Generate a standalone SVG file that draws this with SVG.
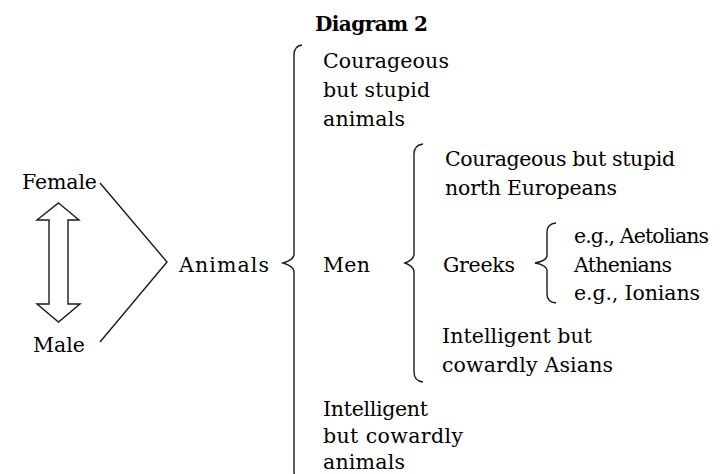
<svg xmlns="http://www.w3.org/2000/svg" width="727" height="474" viewBox="0 0 727 474">
<style>
text{font-family:"DejaVu Serif","Liberation Serif",serif;font-size:20.5px;fill:#000}
.b{font-weight:bold;font-size:20px}
.ln{fill:none;stroke:#1a1a1a;stroke-width:1.4;stroke-linejoin:miter}
</style>
<rect width="727" height="474" fill="#fff"/>
<g id="title"><text class="b" x="315" y="31" textLength="113">Diagram 2</text></g>
<g id="connectors">
<polyline class="ln" points="100,183 167,262 100,342"/>
<path class="ln" d="M302,45 Q294,46 294,55 L294,255 Q293,260 283,263 Q293,266 294,271 L294,472 Q294,480 302,481"/>
<path class="ln" d="M423,144 Q414,145 414,154 L414,255 Q413,260 405,263 Q413,266 414,271 L414,372 Q414,381 423,382"/>
<path class="ln" d="M556,223 Q547,224 547,232 L547,256 Q546,261 535,263 Q546,265 547,270 L547,294 Q547,302 556,303"/>
</g>
<g id="arrow"><polygon class="ln" points="58.5,203 79,220 68,220 68,304 80,304 58.5,322 37,304 49,304 49,220 37,220"/></g>
<g id="female"><text x="22" y="189" textLength="75">Female</text></g>
<g id="male"><text x="33" y="352" textLength="52">Male</text></g>
<g id="animals"><text x="179" y="272" textLength="90">Animals</text></g>
<g id="courageous-animals"><text x="323" y="68" textLength="126">Courageous</text><text x="323" y="97" textLength="107">but stupid</text><text x="323" y="126" textLength="82">animals</text></g>
<g id="men"><text x="323" y="272" textLength="47">Men</text></g>
<g id="north-europeans"><text x="445" y="166" textLength="230">Courageous but stupid</text><text x="445" y="195" textLength="172">north Europeans</text></g>
<g id="greeks"><text x="443" y="272" textLength="72">Greeks</text></g>
<g id="aetolians"><text x="574" y="243" textLength="135">e.g., Aetolians</text></g>
<g id="athenians"><text x="574" y="272" textLength="98">Athenians</text></g>
<g id="ionians"><text x="574" y="300" textLength="126">e.g., Ionians</text></g>
<g id="asians"><text x="442" y="343" textLength="150">Intelligent but</text><text x="442" y="372" textLength="171">cowardly Asians</text></g>
<g id="cowardly-animals"><text x="323" y="416" textLength="105">Intelligent</text><text x="323" y="443" textLength="140">but cowardly</text><text x="323" y="469" textLength="82">animals</text></g>
</svg>
